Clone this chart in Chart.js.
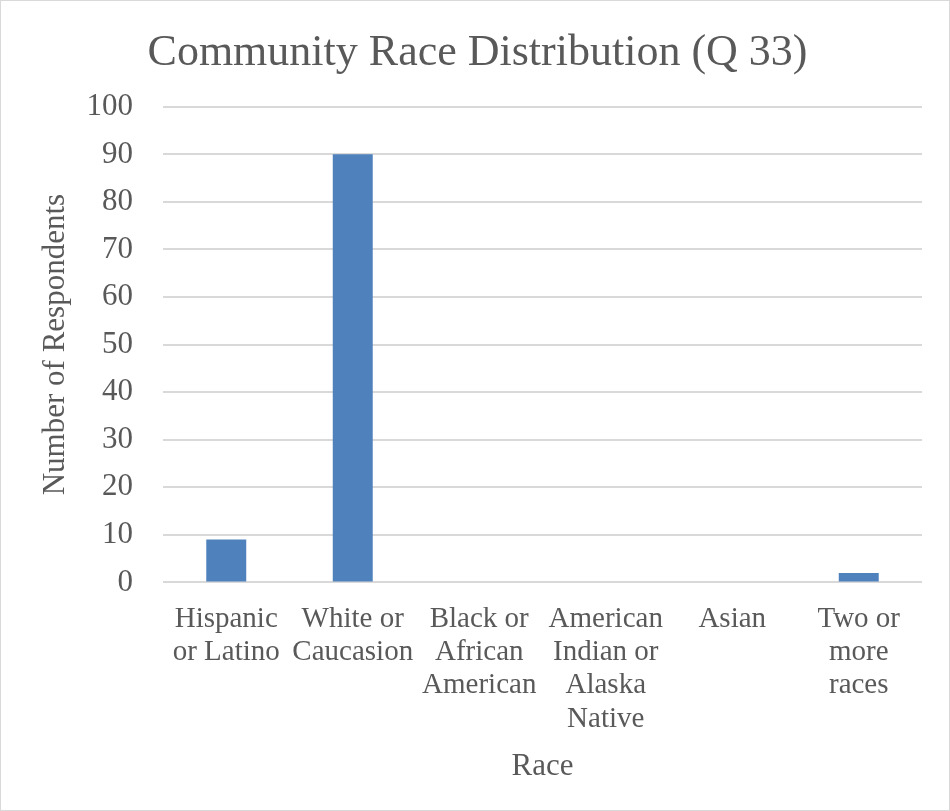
<!DOCTYPE html>
<html lang="en">
<head>
  <meta charset="UTF-8" />
  <title>Community Race Distribution</title>
  <script src="https://cdn.jsdelivr.net/npm/chart.js"></script>
  <style>
    html, body { margin: 0; padding: 0; background: #fff; }
    .chart-box {
      width: 948px;
      height: 809px;
      border: 1px solid #d9d9d9;
    }
  </style>
</head>
<body>
  <div class="chart-box">
    <canvas id="raceChart" width="948" height="809"></canvas>
  </div>

  <script>
    const categories = [
      ['Hispanic', 'or Latino'],
      ['White or', 'Caucasion'],
      ['Black or', 'African', 'American'],
      ['American', 'Indian or', 'Alaska', 'Native'],
      ['Asian'],
      ['Two or', 'more', 'races']
    ];
    const respondents = [9, 90, 0, 0, 0, 2];

    const TEXT = '#595959';
    const GRID = '#d9d9d9';
    const SERIF = "'Liberation Serif', 'DejaVu Serif', serif";

    const ctx = document.getElementById('raceChart').getContext('2d');
    const raceChart = new Chart(ctx, {
      type: 'bar',
      data: {
        labels: categories,
        datasets: [{
          label: 'Respondents',
          data: respondents,
          backgroundColor: '#4f81bd',
          categoryPercentage: 1.0,
          barPercentage: 0.316
        }]
      },
      options: {
        responsive: false,
        animation: false,
        layout: { padding: { left: 32, right: 27, top: 20, bottom: 25 } },
        plugins: {
          legend: { display: false },
          tooltip: { enabled: false },
          title: {
            display: true,
            text: 'Community Race Distribution (Q 33)',
            color: TEXT,
            font: { family: SERIF, size: 44, weight: 'normal' },
            padding: { top: 6, bottom: 27 }
          }
        },
        scales: {
          x: {
            grid: { display: false },
            border: { display: false },
            ticks: {
              color: TEXT,
              font: { family: SERIF, size: 29, lineHeight: 1.15 },
              maxRotation: 0,
              autoSkip: false,
              padding: 12
            },
            title: {
              display: true,
              text: 'Race',
              color: TEXT,
              font: { family: SERIF, size: 31 },
              padding: { top: 0, bottom: 0 }
            }
          },
          y: {
            min: 0,
            max: 100,
            grid: { color: GRID, lineWidth: 2, drawTicks: false },
            border: { display: false },
            ticks: {
              stepSize: 10,
              color: TEXT,
              font: { family: SERIF, size: 31 },
              padding: 30
            },
            title: {
              display: true,
              text: 'Number of Respondents',
              color: TEXT,
              font: { family: SERIF, size: 31 },
              padding: { top: 4, bottom: 0 }
            },
            // fixed axis width so the plot starts where the gridlines should
            afterFit(scale) {
              scale.width = 130;
            }
          }
        }
      }
    });
  </script>
</body>
</html>
